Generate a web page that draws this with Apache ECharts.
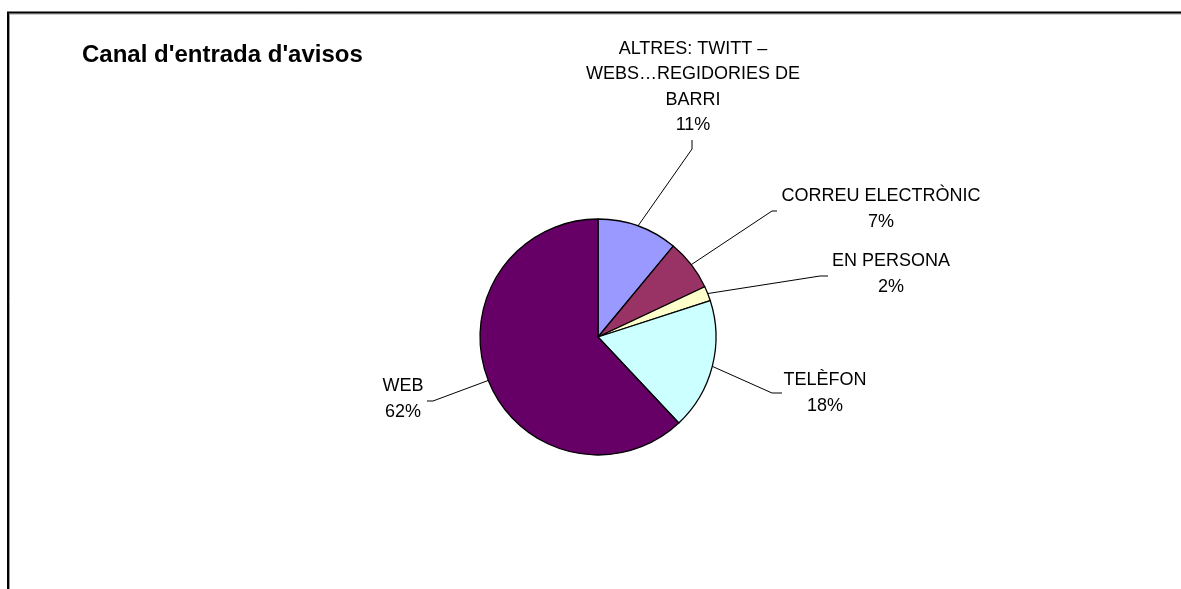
<!DOCTYPE html>
<html>
<head>
<meta charset="utf-8">
<script src="https://cdn.jsdelivr.net/npm/echarts@6/dist/echarts.min.js"></script>
<style>
html,body{margin:0;padding:0;background:#fff;}
#chart{width:1181px;height:589px;}
</style>
</head>
<body>
<div id="chart"></div>
<script>
// ---- data ----
const titleText = "Canal d'entrada d'avisos";
const categories = [
  "ALTRES: TWITT –\nWEBS…REGIDORIES DE\nBARRI",
  "CORREU ELECTRÒNIC",
  "EN PERSONA",
  "TELÈFON",
  "WEB"
];
const values = [11, 7, 2, 18, 62];
const colors = ["#9999FF", "#993366", "#FFFFCC", "#CCFFFF", "#660066"];

// ---- label layout (positions of text blocks and leader-line bends) ----
const labelCenters = [[693, 87], [881, 209], [891, 274], [825, 393], [403, 399]];
const leaderBends = [[692, 149], [772, 211], [820, 276], [772, 393], [433, 401]];
const leaderEnds = [[692, 140], [777, 211], [828, 276], [782, 393], [427, 401]];

const chart = echarts.init(document.getElementById('chart'), null, {renderer: 'canvas'});
const seriesData = categories.map((c, i) => ({
  name: c, value: values[i], itemStyle: {color: colors[i]}
}));

chart.setOption({
  animation: false,
  backgroundColor: '#ffffff',
  title: {
    text: titleText,
    left: 77, top: 38,
    textStyle: {fontFamily: 'Liberation Sans, Arial, sans-serif', fontSize: 24, fontWeight: 'bold', color: '#000'}
  },
  graphic: [
    {type: 'polyline', shape: {points: [[8, 589], [8, 12.5], [1181, 12.5]]}, style: {stroke: '#000', lineWidth: 2, fill: null}, z: 10},
    {type: 'polyline', shape: {points: [[9.5, 589], [9.5, 14], [1181, 14]]}, style: {stroke: '#999', lineWidth: 1, fill: null}, z: 9}
  ],
  series: [{
    type: 'pie',
    center: [598, 337],
    radius: 118,
    startAngle: 90,
    clockwise: true,
    percentPrecision: 0,
    data: seriesData,
    itemStyle: {borderColor: '#000', borderWidth: 1.3},
    emphasis: {disabled: true},
    label: {
      show: true,
      position: 'outside',
      formatter: '{b}\n{d}%',
      fontFamily: 'Liberation Sans, Arial, sans-serif',
      fontSize: 18,
      lineHeight: 25.5,
      color: '#000',
      align: 'center'
    },
    labelLine: {show: true, length: 20, length2: 10, lineStyle: {color: '#000', width: 1}},
    labelLayout: function (params) {
      const i = params.dataIndex;
      const start = params.labelLinePoints ? params.labelLinePoints[0] : leaderBends[i];
      return {
        x: labelCenters[i][0],
        y: labelCenters[i][1],
        align: 'center',
        verticalAlign: 'middle',
        labelLinePoints: [start, leaderBends[i], leaderEnds[i]]
      };
    }
  }]
});
</script>
</body>
</html>
